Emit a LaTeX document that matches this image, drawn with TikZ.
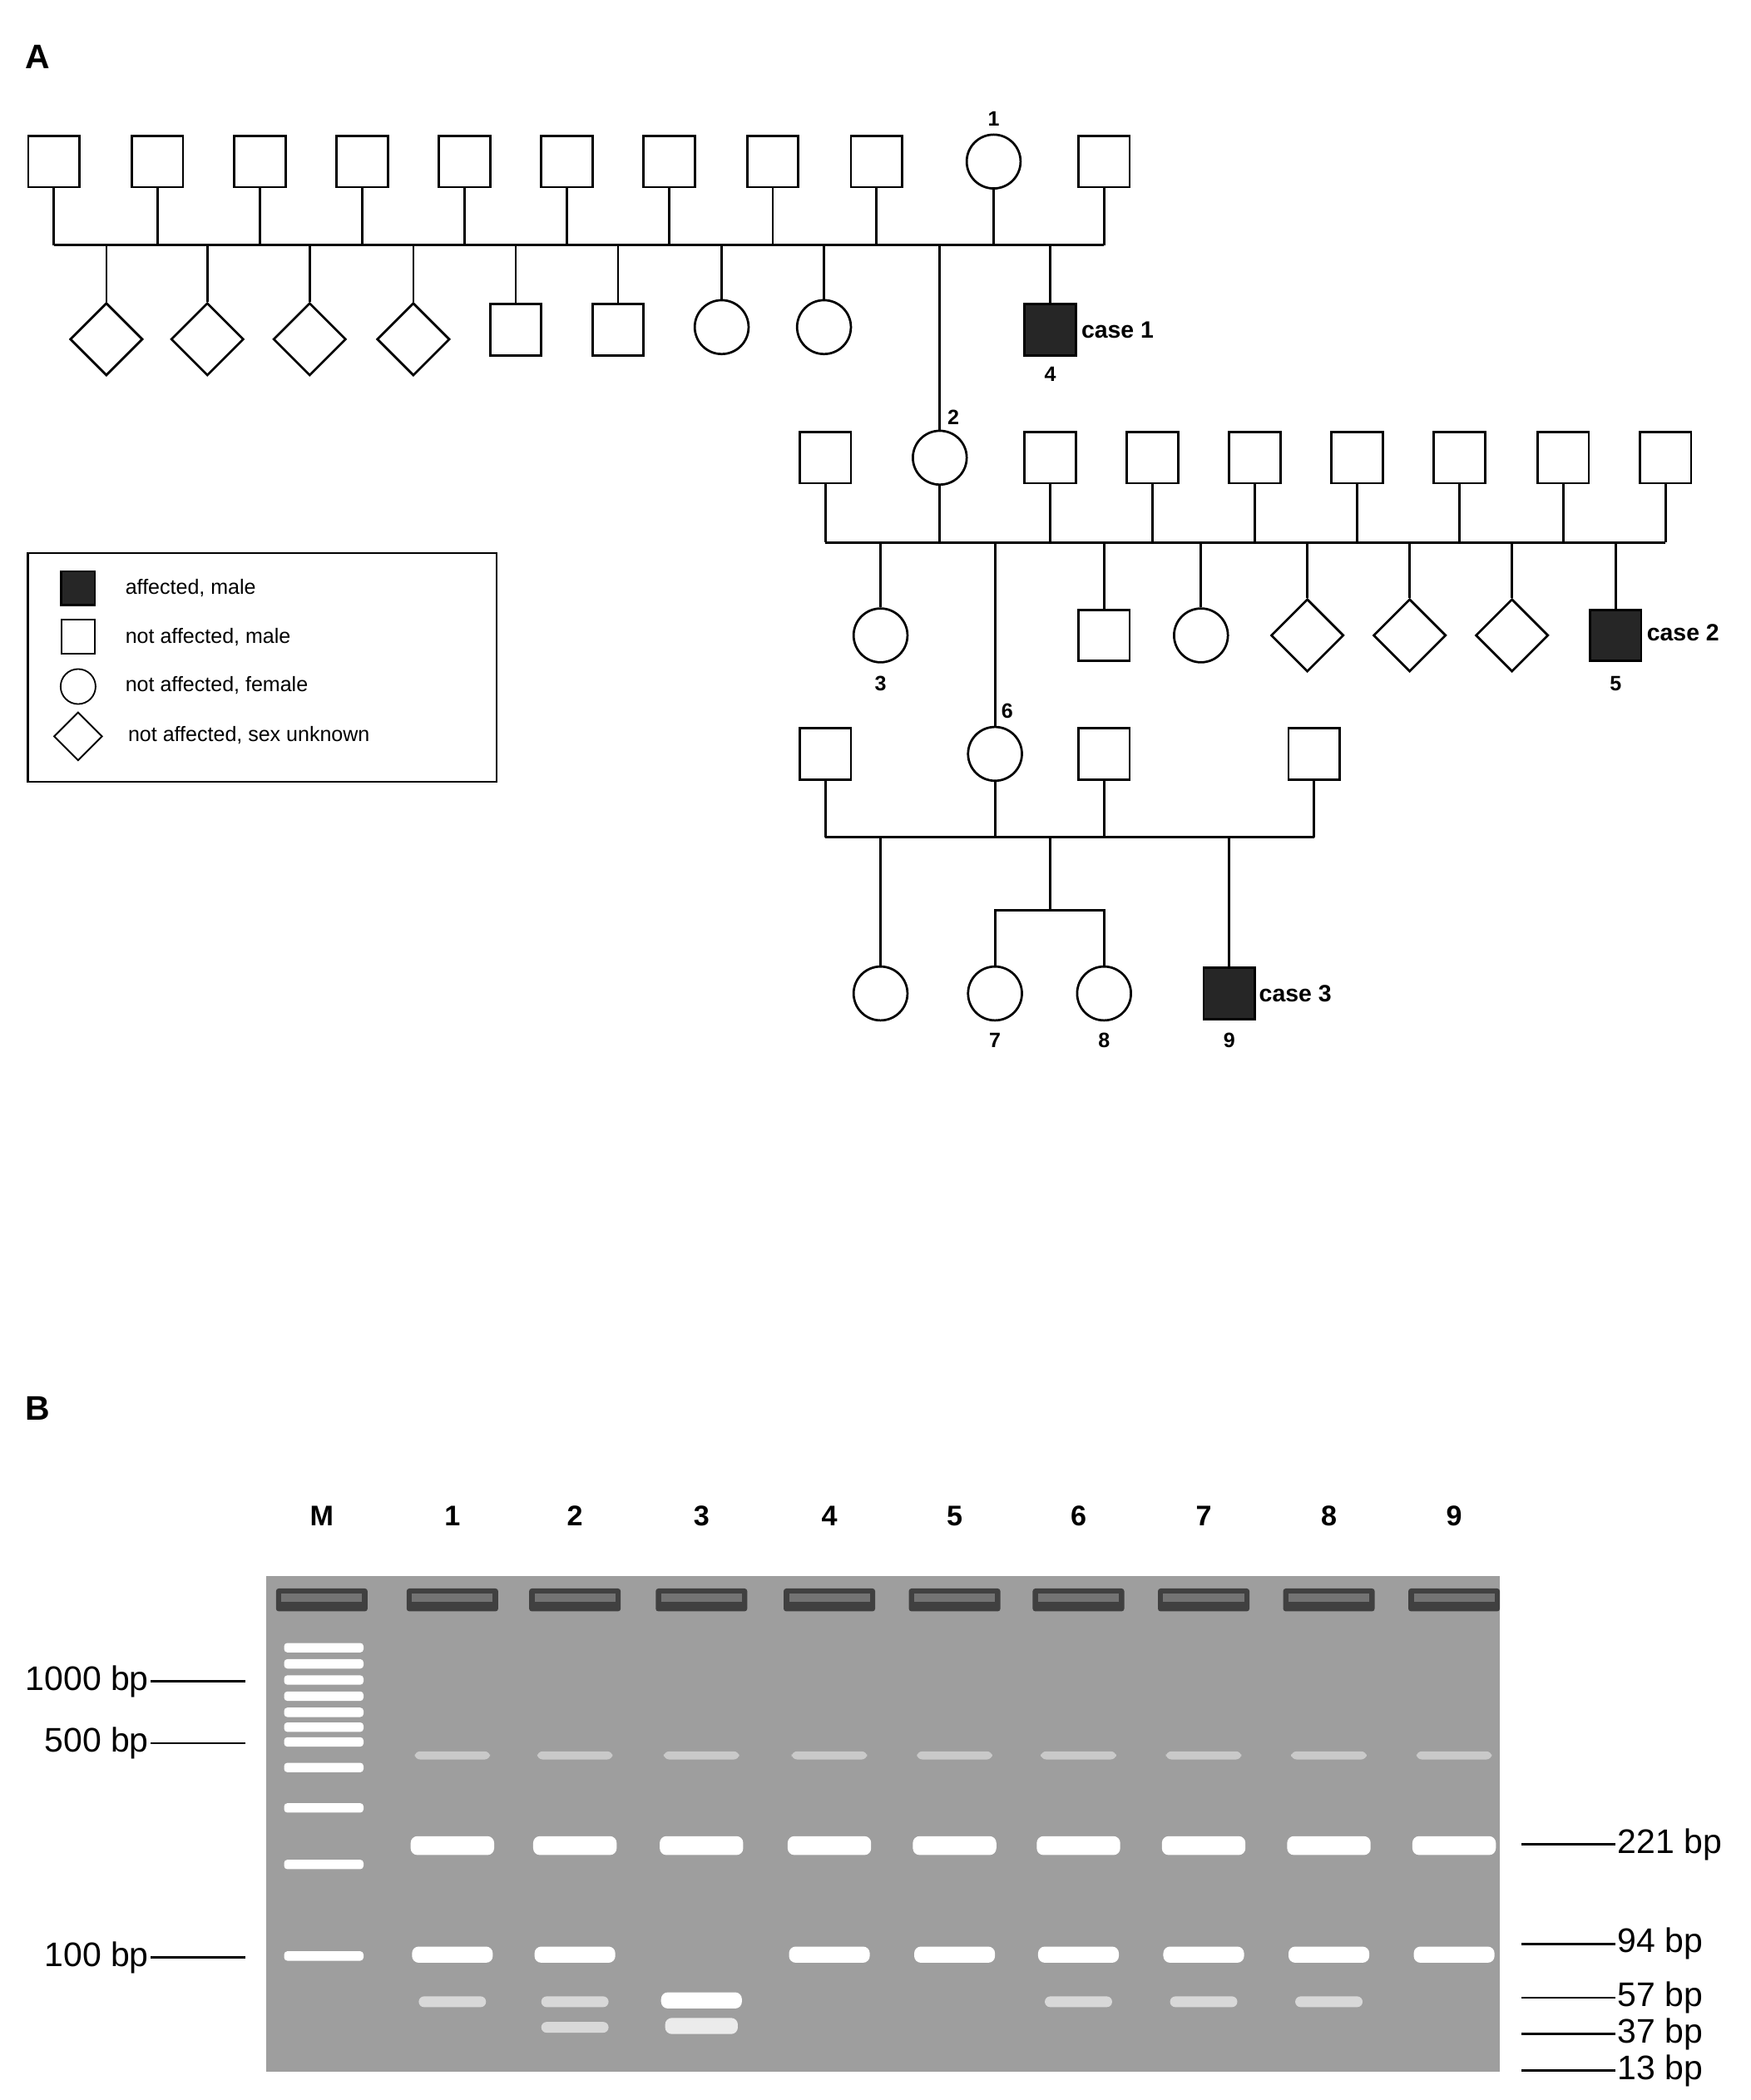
\documentclass[tikz,border=0pt]{standalone}
\usepackage{fontspec}
\setmainfont{Liberation Sans}
\usetikzlibrary{shapes.geometric}
\begin{document}
\begin{tikzpicture}[x=0.05cm,y=-0.05cm,line width=2.4pt,
  sq/.style={draw,rectangle,minimum size=1.9cm,inner sep=0pt,line width=2.4pt},
  aff/.style={sq,fill=black!85},
  ci/.style={draw,circle,minimum size=2.0cm,inner sep=0pt,line width=2.4pt},
  di/.style={draw,diamond,aspect=1,minimum size=2.7cm,inner sep=0pt,line width=2.4pt},
  num/.style={font=\fontsize{22}{24}\selectfont\bfseries},
  cas/.style={font=\fontsize{25}{27}\selectfont\bfseries,anchor=west},
  leg/.style={font=\fontsize{22}{24}\selectfont,anchor=west},
  lane/.style={font=\fontsize{30}{32}\selectfont\bfseries},
  bp/.style={font=\fontsize{36}{38}\selectfont},
  mk/.style={line width=2.4pt},
  band/.style={fill=white,rounded corners=0.25cm,draw=none},
  fband/.style={fill=white,opacity=0.45,rounded corners=0.2cm,draw=none}]
\useasboundingbox (0,0) rectangle (1300,1560);
\node[font=\fontsize{36}{38}\selectfont\bfseries] (A) at (28,42) {A};
% generation 1
\foreach \x [count=\i] in {40,117,193,269,345,421,497,574,651,820}{
  \node[sq] (g\i) at (\x,120) {};
  \draw (g\i.south) -- (\x,182);}
\node[ci] (p1) at (738,120) {};
\draw (p1.south) -- (738,182);
\node[num] (l1) at (738,88) {1};
\coordinate (h1a) at (40,182); \coordinate (h1b) at (820,182);
\draw (h1a) -- (h1b);
\foreach \x [count=\i] in {79,154,230,307}{
  \node[di] (d\i) at (\x,252) {}; \draw (\x,182) -- (d\i.north);}
\foreach \x [count=\i] in {383,459}{
  \node[sq] (s\i) at (\x,245) {}; \draw (\x,182) -- (s\i.north);}
\foreach \x [count=\i] in {536,612}{
  \node[ci] (c\i) at (\x,243) {}; \draw (\x,182) -- (c\i.north);}
\node[aff] (p4) at (780,245) {}; \draw (780,182) -- (p4.north);
\node[cas] (k1) at (800,245) {case 1};
\node[num] (l4) at (780,278) {4};
% generation 2
\node[ci] (p2) at (698,340) {};
\draw (698,182) -- (p2.north);
\node[num] (l2) at (708,310) {2};
\draw (p2.south) -- (698,403);
\foreach \x [count=\i] in {613,780,856,932,1008,1084,1161,1237}{
  \node[sq] (q\i) at (\x,340) {}; \draw (q\i.south) -- (\x,403);}
\coordinate (h2a) at (613,403); \coordinate (h2b) at (1237,403);
\draw (h2a) -- (h2b);
\node[ci] (p3) at (654,472) {}; \draw (654,403) -- (p3.north);
\node[num] (l3) at (654,508) {3};
\node[sq] (r1) at (820,472) {}; \draw (820,403) -- (r1.north);
\node[ci] (r2) at (892,472) {}; \draw (892,403) -- (r2.north);
\foreach \x [count=\i] in {971,1047,1123}{
  \node[di] (e\i) at (\x,472) {}; \draw (\x,403) -- (e\i.north);}
\node[aff] (p5) at (1200,472) {}; \draw (1200,403) -- (p5.north);
\node[cas] (k2) at (1220,470) {case 2};
\node[num] (l5) at (1200,508) {5};
% generation 3
\node[ci] (p6) at (739,560) {};
\draw (739,403) -- (p6.north);
\node[num] (l6) at (748,528) {6};
\draw (p6.south) -- (739,622);
\foreach \x [count=\i] in {613,820,976}{
  \node[sq] (t\i) at (\x,560) {}; \draw (t\i.south) -- (\x,622);}
\coordinate (h3a) at (613,622); \coordinate (h3b) at (976,622);
\draw (h3a) -- (h3b);
\node[ci] (u1) at (654,738) {}; \draw (654,622) -- (u1.north);
\draw (780,622) -- (780,676);
\node[ci] (p7) at (739,738) {};
\node[ci] (p8) at (820,738) {};
\draw (p7.north) -- (739,676) -- (820,676) -- (p8.north);
\node[num] (l7) at (739,773) {7};
\node[num] (l8) at (820,773) {8};
\node[aff] (p9) at (913,738) {}; \draw (913,622) -- (p9.north);
\node[cas] (k3) at (932,738) {case 3};
\node[num] (l9) at (913,773) {9};
% legend
\node[draw,line width=2pt,minimum width=17.4cm,minimum height=8.5cm,anchor=north west] (legbox) at (20,410) {};
\node[aff,minimum size=1.25cm] (lg1) at (58,437) {};
\node[sq,minimum size=1.25cm,line width=1.6pt] (lg2) at (58,473) {};
\node[ci,minimum size=1.3cm,line width=1.6pt] (lg3) at (58,510) {};
\node[di,minimum size=1.8cm,line width=1.6pt] (lg4) at (58,547) {};
\node[leg] (t1) at (90,437) {affected, male};
\node[leg] (t2) at (90,473) {not affected, male};
\node[leg] (t3) at (90,509) {not affected, female};
\node[leg] (t4) at (92,546) {not affected, sex unknown};
% panel B
\node[font=\fontsize{36}{38}\selectfont\bfseries] (B) at (28,1046) {B};
\foreach \x/\t in {239/M,336/1,427/2,521/3,616/4,709/5,801/6,894/7,987/8,1080/9}
  \node[lane] (lab\t) at (\x,1126) {\t};
\node[fill=black!38,draw=none,minimum width=45.8cm,minimum height=18.4cm,anchor=north west,inner sep=0pt] (gel) at (197,1170) {};
\foreach \x in {239,336,427,521,616,709,801,894,987,1080}{
  \fill[black!75,rounded corners=0.1cm] (\x-34,1180) rectangle (\x+34,1197);
  \fill[black!55] (\x-30,1184) rectangle (\x+30,1190);}
% ladder
\foreach \y in {1224,1236,1248,1260,1272,1283,1294,1313,1343,1385,1453}
  \fill[band,rounded corners=0.12cm] (211,\y-3.5) rectangle (270,\y+3.5);
% faint 500 bands
\foreach \x in {336,427,521,616,709,801,894,987,1080}
  \fill[fband] (\x-28,1301) rectangle (\x+28,1307);
% 221
\foreach \x in {336,427,521,616,709,801,894,987,1080}
  \fill[band] (\x-31,1364) rectangle (\x+31,1378);
% 94
\foreach \x in {336,427,616,709,801,894,987,1080}
  \fill[band] (\x-30,1446) rectangle (\x+30,1458);
% 57
\foreach \x in {336,427,801,894,987}
  \fill[fband,opacity=0.6] (\x-25,1483) rectangle (\x+25,1491);
\fill[band] (521-30,1480) rectangle (521+30,1492);
% 37
\fill[fband,opacity=0.6] (427-25,1502) rectangle (427+25,1510);
\fill[band,opacity=0.8] (521-27,1499) rectangle (521+27,1511);
% markers left
\foreach \y/\t in {1249/1000,1295/500,1454/100}{
  \coordinate (ml\t) at (182,\y);
  \node[bp,anchor=east,inner sep=1pt] (nl\t) at (112,\y) {\t\ bp};
  \draw[mk] (nl\t.east) -- (ml\t);}
\foreach \y/\t in {1370/221,1444/94,1484/57,1511/37,1538/13}{
  \coordinate (mr\t) at (1130,\y);
  \node[bp,anchor=west,inner sep=1pt] (nr\t) at (1200,\y) {\t\ bp};
  \draw[mk] (mr\t) -- (nr\t.west);}
\end{tikzpicture}
\end{document}
